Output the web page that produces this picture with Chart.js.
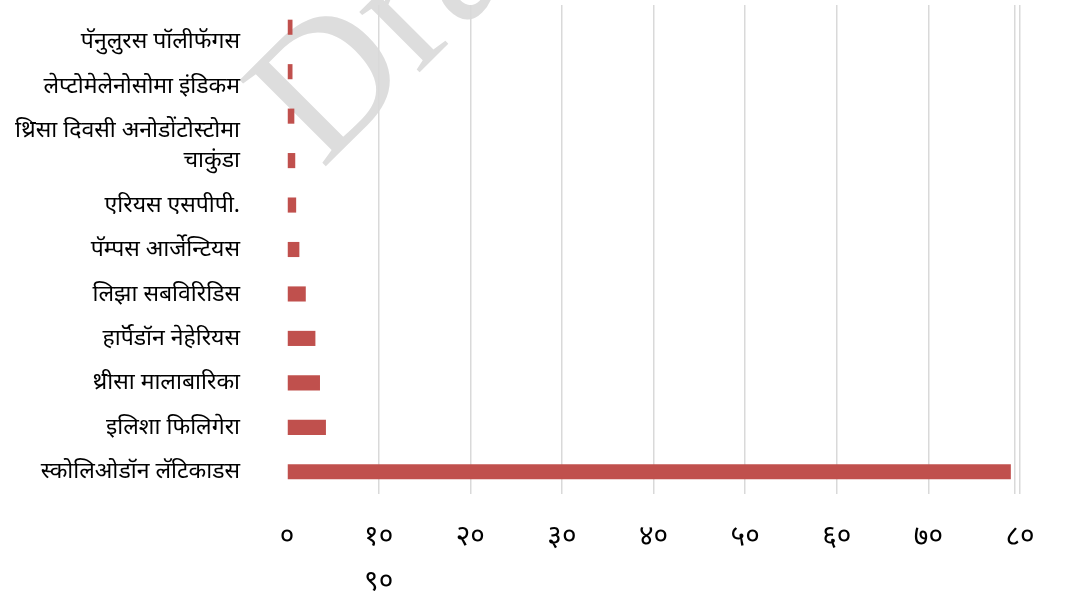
<!DOCTYPE html>
<html>
<head>
<meta charset="utf-8">
<script src="https://cdn.jsdelivr.net/npm/chart.js@4.4.1/dist/chart.umd.min.js"></script>
<style>
  body { margin: 0; background: #fff; }
</style>
</head>
<body>
<canvas id="barchart" width="1069" height="601"></canvas>
<script>
// categories, top to bottom (the top bar has no label in the source)
const species = [
  '',
  'पॅनुलुरस पॉलीफॅगस',
  'लेप्टोमेलेनोसोमा इंडिकम',
  ['थ्रिसा दिवसी अनोडोंटोस्टोमा', 'चाकुंडा'],
  'एरियस एसपीपी.',
  'पॅम्पस आर्जेन्टियस',
  'लिझा सबविरिडिस',
  'हार्पॅडॉन नेहेरियस',
  'थ्रीसा मालाबारिका',
  'इलिशा फिलिगेरा',
  'स्कोलिओडॉन लॅटिकाडस'
];
const values = [0.6, 0.6, 0.8, 0.9, 1.0, 1.35, 2.05, 3.1, 3.6, 4.25, 79.0];

const xTickValues = [0, 10, 20, 30, 40, 50, 60, 70, 80];
const xTickLabels = ['०', '१०', '२०', '३०', '४०', '५०', '६०', '७०', '८०'];
const wrappedTickLabel = '९०';   // spills onto a second row under १०
const extraGridValue = 79.4;

const barColor = 'rgb(192, 80, 77)';
const gridColor = '#d9d9d9';

const watermark = {
  id: 'watermark',
  beforeDraw(chart) {
    const c = chart.ctx;
    c.save();
    c.translate(322, 170);
    c.rotate(-Math.PI / 4);
    c.font = '186px "Liberation Serif"';
    c.fillStyle = '#dddddd';
    c.fillText('Draft', 0, 0);
    c.restore();
  }
};

const ctx = document.getElementById('barchart');

new Chart(ctx, {
  type: 'bar',
  data: {
    labels: species,
    datasets: [{
      data: values,
      backgroundColor: barColor,
      borderWidth: 0,
      barPercentage: 0.34,
      categoryPercentage: 1.0
    }]
  },
  options: {
    indexAxis: 'y',
    responsive: false,
    animation: false,
    layout: {
      padding: { top: 5, right: 49, bottom: 0, left: 0 }
    },
    scales: {
      x: {
        min: 0,
        max: 80,
        afterBuildTicks(scale) {
          scale.ticks = xTickValues.map(v => ({ value: v }));
          scale.ticks.push({ value: extraGridValue });
        },
        afterFit(scale) {
          scale.height = 107;
          scale.paddingLeft = 0;
          scale.paddingRight = 0;
        },
        border: { display: false },
        grid: {
          drawTicks: false,
          lineWidth: 1.5,
          color: c => (c.tick && c.tick.value === 0) ? 'rgba(0,0,0,0)' : gridColor
        },
        ticks: {
          autoSkip: false,
          maxRotation: 0,
          padding: 21,
          color: '#000',
          font: { family: '"Noto Sans", sans-serif', size: 28, lineHeight: 1.6 },
          callback: function (value) {
            const i = xTickValues.indexOf(value);
            if (i < 0) return '';
            if (i === 1) return [xTickLabels[i], wrappedTickLabel];
            return xTickLabels[i];
          }
        }
      },
      y: {
        afterFit(scale) {
          scale.width = 287;
          scale.paddingTop = 0;
          scale.paddingBottom = 0;
        },
        border: { display: false },
        grid: { display: false, drawTicks: false },
        ticks: {
          autoSkip: false,
          padding: 47,
          color: '#000',
          font: { family: '"Noto Sans", sans-serif', size: 23, lineHeight: 1.3 },
          callback: function (value, index) {
            const label = this.getLabelForValue(value);
            // the upper labels sit a little above their bars in the source
            if (index === 1 || index === 2) return [label, '', ''];
            if (Array.isArray(label)) return label.concat(['']);
            return label;
          }
        }
      }
    },
    plugins: {
      legend: { display: false },
      tooltip: { enabled: false }
    }
  },
  plugins: [watermark]
});
</script>
</body>
</html>
